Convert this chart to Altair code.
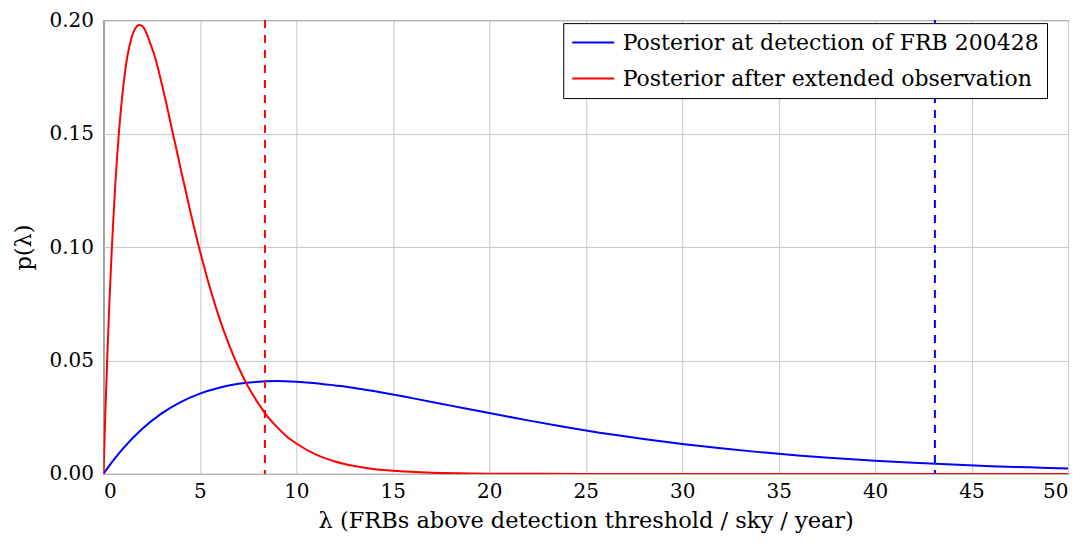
import altair as alt
import pandas as pd

S_BLUE = "Posterior at detection of FRB 200428"
S_RED = "Posterior after extended observation"

blue_lam = [0, 0.5, 1, 2, 3, 4, 5, 6, 7, 8, 9, 10, 11, 12, 13, 14, 15, 16, 18, 20,
            22, 24, 26, 28, 30, 32, 34, 36, 38, 40, 42, 44, 46, 48, 50]
blue_p = [0, 0.00584, 0.01105, 0.01978, 0.02654, 0.03166, 0.0354, 0.0380, 0.0397,
          0.0406, 0.0409, 0.0406, 0.0400, 0.0390, 0.0379, 0.0365, 0.0350, 0.0334,
          0.0301, 0.0268, 0.0236, 0.0206, 0.0178, 0.0154, 0.0132, 0.0113, 0.0096,
          0.0081, 0.0069, 0.0058, 0.0049, 0.0041, 0.0034, 0.0029, 0.0024]

red_lam = [0, 0.1, 0.2, 0.3, 0.4, 0.5, 0.6, 0.7, 0.8, 0.9, 1.0, 1.1, 1.25, 1.4, 1.5,
           1.65, 1.86, 2.05, 2.25, 2.4, 2.6, 2.8, 3.0, 3.25, 3.5, 3.75, 4.0, 4.5,
           5.0, 5.5, 6.0, 6.5, 7.0, 7.5, 8.0, 8.5, 9.0, 9.5, 10, 11, 12, 13,
           14, 15, 17, 20, 25, 30, 40, 50]
red_p = [0, 0.0274, 0.0519, 0.0738, 0.0932, 0.1103, 0.1255, 0.1388, 0.1503, 0.1602,
         0.1688, 0.1759, 0.1845, 0.1904, 0.1934, 0.1963, 0.1978, 0.1971, 0.1938,
         0.1904, 0.1856, 0.1797, 0.1727, 0.1636, 0.1538, 0.1443, 0.1346, 0.1158,
         0.0983, 0.0826, 0.0689, 0.0571, 0.0470, 0.0384, 0.0314, 0.0254, 0.0206,
         0.0165, 0.0134, 0.0086, 0.0055, 0.0035, 0.0022, 0.0014, 0.00053, 0.00012,
         0.00001, 0, 0, 0]

rule_x = [43.1, 8.37]
rule_series = [S_BLUE, S_RED]

x_ticks = [0, 5, 10, 15, 20, 25, 30, 35, 40, 45, 50]
y_ticks = [0, 0.05, 0.10, 0.15, 0.20]

df = pd.concat([
    pd.DataFrame({"lam": blue_lam, "p": blue_p, "series": S_BLUE}),
    pd.DataFrame({"lam": red_lam, "p": red_p, "series": S_RED}),
])
rdf = pd.DataFrame({"x": rule_x, "rs": rule_series})

FONT = "DejaVu Serif"
FS = 20
TFS = 22.5
domain = [S_BLUE, S_RED]
rng = ["#0000ff", "#ff0000"]

xenc = alt.X("lam:Q", scale=alt.Scale(domain=[0, 50], nice=False, zero=False),
             axis=alt.Axis(values=x_ticks, title="λ (FRBs above detection threshold / sky / year)",
                           format="d"))
yenc = alt.Y("p:Q", scale=alt.Scale(domain=[0, 0.2], nice=False),
             axis=alt.Axis(values=y_ticks, format=".2f", title="p(λ)"))

lines = alt.Chart(df).mark_line(strokeWidth=2, clip=True, interpolate="monotone").encode(
    x=xenc, y=yenc,
    color=alt.Color("series:N", scale=alt.Scale(domain=domain, range=rng),
                    legend=alt.Legend(title=None, orient="none", legendX=460, legendY=3,
                                      symbolType="M-2,0H2", symbolSize=441,
                                      symbolOffset=10.5,
                                      symbolStrokeWidth=2, labelFont=FONT,
                                      labelFontSize=22, labelColor="black",
                                      labelOffset=18, padding=8, rowPadding=13,
                                      fillColor="white", strokeColor="black",
                                      labelLimit=0)),
    order="lam:Q",
)

rules = alt.Chart(rdf).mark_rule(strokeDash=[8, 7], strokeWidth=2).encode(
    x=alt.X("x:Q"),
    color=alt.Color("rs:N", scale=alt.Scale(domain=domain, range=rng), legend=None),
)

chart = alt.layer(lines, rules).resolve_scale(color="independent").properties(
    width=965, height=454,
    autosize=alt.AutoSizeParams(type="none"),
    padding={"left": 95.5, "top": 12, "right": 10, "bottom": 64},
).configure_view(stroke="black", strokeWidth=1).configure_axis(
    grid=True, gridColor="#c8c8c8", gridWidth=1, domain=False, ticks=False,
    labelFont=FONT, labelFontSize=FS, labelColor="black",
    titleFont=FONT, titleFontSize=TFS, titleColor="black", titleFontWeight="normal",
).configure_axisX(labelPadding=8, titlePadding=8).configure_axisY(labelPadding=10, titlePadding=13)

chart.save("out.html", embed_options={"renderer": "svg", "actions": False})
